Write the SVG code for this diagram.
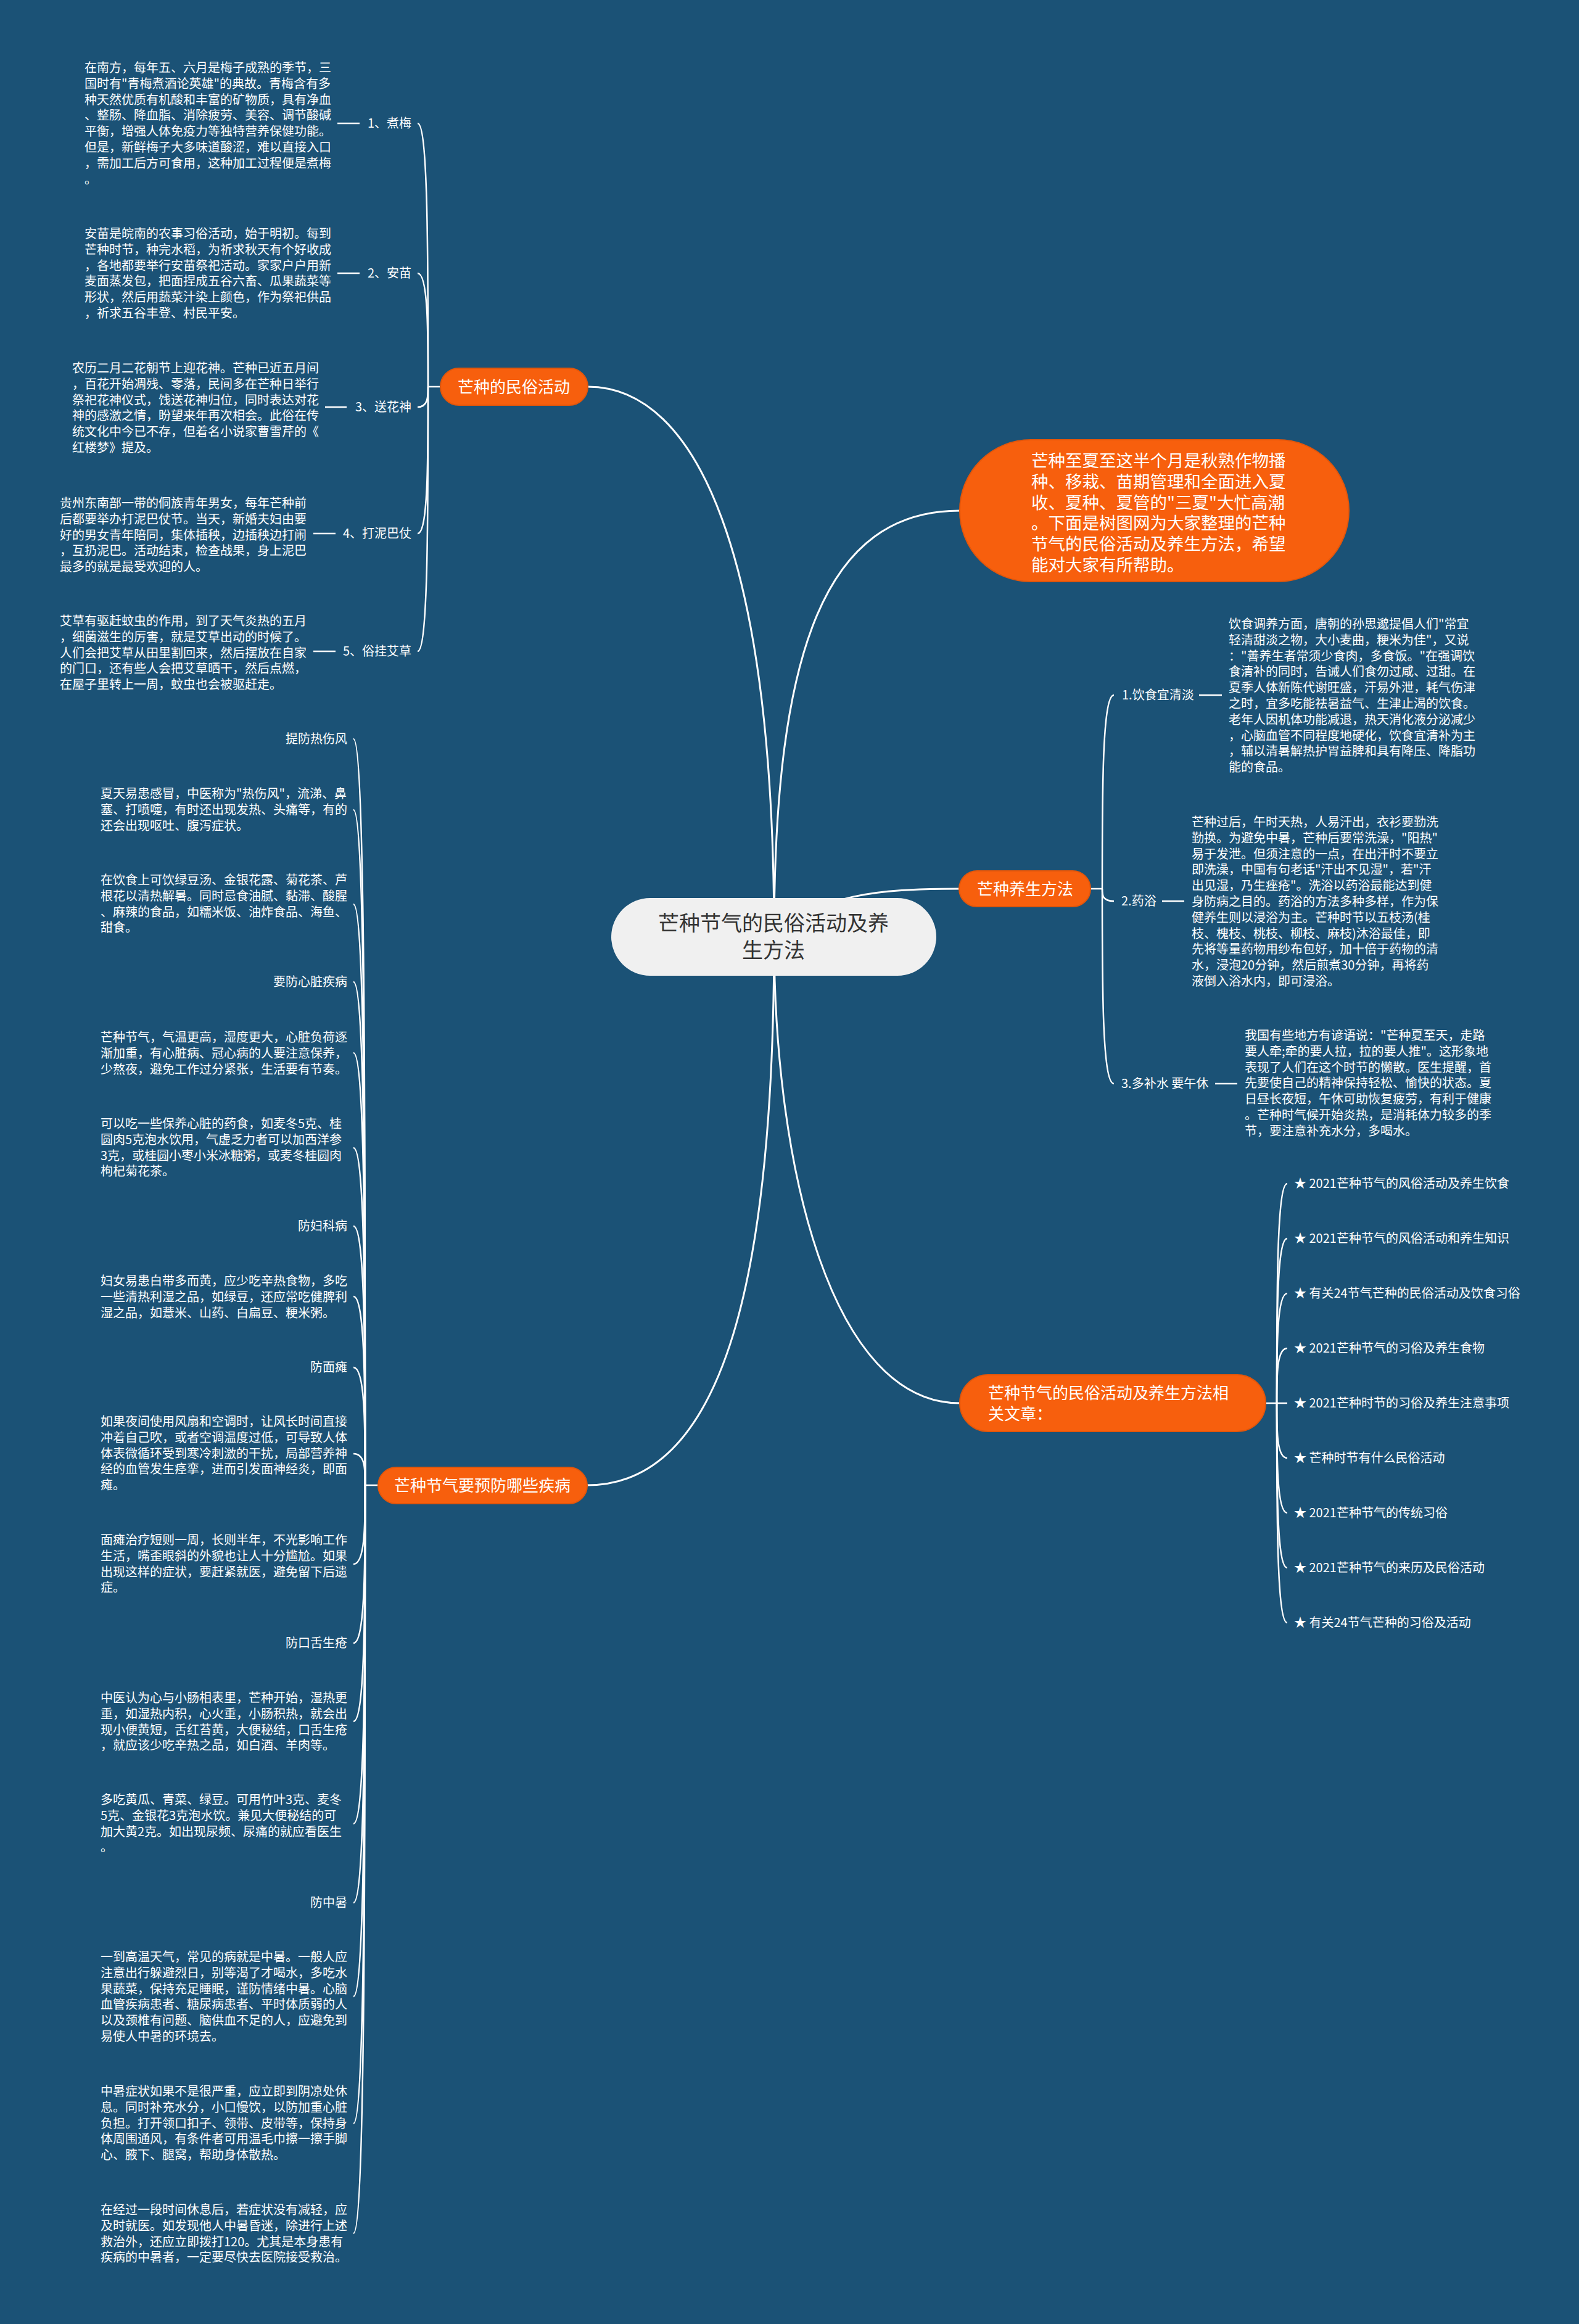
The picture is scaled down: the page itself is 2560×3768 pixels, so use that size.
<svg xmlns="http://www.w3.org/2000/svg" width="2560" height="3768" viewBox="0 0 2560 3768">
<style>
text{font-family:"Noto Sans CJK SC","Noto Sans",sans-serif;}
.p{font-size:20px;fill:#ffffff;}
.lbl{font-size:20px;fill:#ffffff;}
.r{text-anchor:end;}
.link{fill:none;stroke:#ffffff;stroke-width:2.5;}
.main{fill:none;stroke:#ffffff;stroke-width:3;}
.on{fill:#f75f0d;stroke:#e2560b;stroke-width:2;}
.ont{font-size:26px;fill:#ffffff;}
</style>
<rect x="0" y="0" width="2560" height="3768" fill="#1b5276"/>

<g id="connectors">
  <path class="main" d="M953 627 C1130 627 1255 900 1255 1519"/>
  <path class="main" d="M1255 1519 C1255 1050 1340 828 1556 828"/>
  <path class="main" d="M1255 1519 C1330 1450 1420 1441 1555 1441"/>
  <path class="main" d="M1255 1519 C1255 1900 1350 2275 1556 2275"/>
  <path class="main" d="M1255 1519 C1255 2050 1180 2408 952 2408"/>
  <!-- 民俗活动 bracket -->
  <path class="link" d="M714 627 H694"/>
  <path class="link" d="M677 200 C694 200 694 413 694 627"/>
  <path class="link" d="M677 443 C694 443 694 535 694 627"/>
  <path class="link" d="M677 660 C694 660 694 643 694 627"/>
  <path class="link" d="M677 865 C694 865 694 746 694 627"/>
  <path class="link" d="M677 1056 C694 1056 694 841 694 627"/>
  <path class="link" d="M547 200 H583 M547 443 H583 M527 660 H562 M508 865 H544 M508 1056 H544"/>
  <!-- 养生方法 bracket -->
  <path class="link" d="M1768 1441 H1787"/>
  <path class="link" d="M1806 1127 C1787 1127 1787 1284 1787 1441"/>
  <path class="link" d="M1806 1461 C1787 1461 1787 1451 1787 1441"/>
  <path class="link" d="M1806 1757 C1787 1757 1787 1599 1787 1441"/>
  <path class="link" d="M1944 1127 H1981 M1884 1461 H1920 M1970 1757 H2006"/>
  <!-- 相关文章 bracket -->
  <path class="link" d="M2052 2275 H2070"/>
  <path class="link" d="M2087 1919 C2070 1919 2070 2097 2070 2275"/>
  <path class="link" d="M2087 2008 C2070 2008 2070 2141 2070 2275"/>
  <path class="link" d="M2087 2097 C2070 2097 2070 2186 2070 2275"/>
  <path class="link" d="M2087 2186 C2070 2186 2070 2230 2070 2275"/>
  <path class="link" d="M2087 2275 H2070"/>
  <path class="link" d="M2087 2364 C2070 2364 2070 2320 2070 2275"/>
  <path class="link" d="M2087 2453 C2070 2453 2070 2364 2070 2275"/>
  <path class="link" d="M2087 2542 C2070 2542 2070 2408 2070 2275"/>
  <path class="link" d="M2087 2631 C2070 2631 2070 2453 2070 2275"/>
  <!-- 疾病 bracket -->
  <path class="link" d="M613 2408 H592"/>
  <path class="link" d="M573 1198 C592 1198 592 1803 592 2408"/>
  <path class="link" d="M573 1313 C592 1313 592 1860 592 2408"/>
  <path class="link" d="M573 1466 C592 1466 592 1937 592 2408"/>
  <path class="link" d="M573 1592 C592 1592 592 2000 592 2408"/>
  <path class="link" d="M573 1707 C592 1707 592 2057 592 2408"/>
  <path class="link" d="M573 1861 C592 1861 592 2134 592 2408"/>
  <path class="link" d="M573 1988 C592 1988 592 2198 592 2408"/>
  <path class="link" d="M573 2102 C592 2102 592 2255 592 2408"/>
  <path class="link" d="M573 2217 C592 2217 592 2312 592 2408"/>
  <path class="link" d="M573 2357 C592 2357 592 2382 592 2408"/>
  <path class="link" d="M573 2536 C592 2536 592 2472 592 2408"/>
  <path class="link" d="M573 2664 C592 2664 592 2536 592 2408"/>
  <path class="link" d="M573 2791 C592 2791 592 2600 592 2408"/>
  <path class="link" d="M573 2957 C592 2957 592 2682 592 2408"/>
  <path class="link" d="M573 3085 C592 3085 592 2746 592 2408"/>
  <path class="link" d="M573 3237 C592 3237 592 2822 592 2408"/>
  <path class="link" d="M573 3443 C592 3443 592 2925 592 2408"/>
  <path class="link" d="M573 3621 C592 3621 592 3014 592 2408"/>
</g>

<g id="center">
  <rect x="991" y="1456" width="527" height="126" rx="63" fill="#f0f0f0"/>
  <text x="1254" y="1509" text-anchor="middle" font-size="34" fill="#333333">芒种节气的民俗活动及养</text>
  <text x="1254" y="1553" text-anchor="middle" font-size="34" fill="#333333">生方法</text>
</g>

<g id="node-intro">
  <rect class="on" x="1556" y="713" width="631" height="230" rx="115"/>
  <text font-size="27.5" fill="#ffffff" x="1672" y="757">
    <tspan x="1672">芒种至夏至这半个月是秋熟作物播</tspan>
    <tspan x="1672" dy="33.8">种、移栽、苗期管理和全面进入夏</tspan>
    <tspan x="1672" dy="33.8">收、夏种、夏管的"三夏"大忙高潮</tspan>
    <tspan x="1672" dy="33.8">。下面是树图网为大家整理的芒种</tspan>
    <tspan x="1672" dy="33.8">节气的民俗活动及养生方法，希望</tspan>
    <tspan x="1672" dy="33.8">能对大家有所帮助。</tspan>
  </text>
</g>

<g id="node-customs">
  <rect class="on" x="714" y="597" width="239" height="60" rx="30"/>
  <text class="ont" x="833" y="637" text-anchor="middle">芒种的民俗活动</text>
</g>
<g id="c1">
  <text class="lbl r" x="667" y="207">1、煮梅</text>
  <text class="p" x="137" y="117">
    <tspan x="137">在南方，每年五、六月是梅子成熟的季节，三</tspan>
    <tspan x="137" dy="25.8">国时有"青梅煮酒论英雄"的典故。青梅含有多</tspan>
    <tspan x="137" dy="25.8">种天然优质有机酸和丰富的矿物质，具有净血</tspan>
    <tspan x="137" dy="25.8">、整肠、降血脂、消除疲劳、美容、调节酸碱</tspan>
    <tspan x="137" dy="25.8">平衡，增强人体免疫力等独特营养保健功能。</tspan>
    <tspan x="137" dy="25.8">但是，新鲜梅子大多味道酸涩，难以直接入口</tspan>
    <tspan x="137" dy="25.8">，需加工后方可食用，这种加工过程便是煮梅</tspan>
    <tspan x="137" dy="25.8">。</tspan>
  </text>
</g>
<g id="c2">
  <text class="lbl r" x="667" y="450">2、安苗</text>
  <text class="p" x="137" y="386">
    <tspan x="137">安苗是皖南的农事习俗活动，始于明初。每到</tspan>
    <tspan x="137" dy="25.8">芒种时节，种完水稻，为祈求秋天有个好收成</tspan>
    <tspan x="137" dy="25.8">，各地都要举行安苗祭祀活动。家家户户用新</tspan>
    <tspan x="137" dy="25.8">麦面蒸发包，把面捏成五谷六畜、瓜果蔬菜等</tspan>
    <tspan x="137" dy="25.8">形状，然后用蔬菜汁染上颜色，作为祭祀供品</tspan>
    <tspan x="137" dy="25.8">，祈求五谷丰登、村民平安。</tspan>
  </text>
</g>
<g id="c3">
  <text class="lbl r" x="667" y="667">3、送花神</text>
  <text class="p" x="117" y="604">
    <tspan x="117">农历二月二花朝节上迎花神。芒种已近五月间</tspan>
    <tspan x="117" dy="25.8">，百花开始凋残、零落，民间多在芒种日举行</tspan>
    <tspan x="117" dy="25.8">祭祀花神仪式，饯送花神归位，同时表达对花</tspan>
    <tspan x="117" dy="25.8">神的感激之情，盼望来年再次相会。此俗在传</tspan>
    <tspan x="117" dy="25.8">统文化中今已不存，但着名小说家曹雪芹的《</tspan>
    <tspan x="117" dy="25.8">红楼梦》提及。</tspan>
  </text>
</g>
<g id="c4">
  <text class="lbl r" x="667" y="872">4、打泥巴仗</text>
  <text class="p" x="97" y="823">
    <tspan x="97">贵州东南部一带的侗族青年男女，每年芒种前</tspan>
    <tspan x="97" dy="25.8">后都要举办打泥巴仗节。当天，新婚夫妇由要</tspan>
    <tspan x="97" dy="25.8">好的男女青年陪同，集体插秧，边插秧边打闹</tspan>
    <tspan x="97" dy="25.8">，互扔泥巴。活动结束，检查战果，身上泥巴</tspan>
    <tspan x="97" dy="25.8">最多的就是最受欢迎的人。</tspan>
  </text>
</g>
<g id="c5">
  <text class="lbl r" x="667" y="1063">5、俗挂艾草</text>
  <text class="p" x="97" y="1014">
    <tspan x="97">艾草有驱赶蚊虫的作用，到了天气炎热的五月</tspan>
    <tspan x="97" dy="25.8">，细菌滋生的厉害，就是艾草出动的时候了。</tspan>
    <tspan x="97" dy="25.8">人们会把艾草从田里割回来，然后摆放在自家</tspan>
    <tspan x="97" dy="25.8">的门口，还有些人会把艾草晒干，然后点燃，</tspan>
    <tspan x="97" dy="25.8">在屋子里转上一周，蚊虫也会被驱赶走。</tspan>
  </text>
</g>

<g id="node-health">
  <rect class="on" x="1555" y="1412" width="213" height="58" rx="29"/>
  <text class="ont" x="1662" y="1451" text-anchor="middle">芒种养生方法</text>
</g>
<g id="h1">
  <text class="lbl" x="1819" y="1134">1.饮食宜清淡</text>
  <text class="p" x="1992" y="1019">
    <tspan x="1992">饮食调养方面，唐朝的孙思邈提倡人们"常宜</tspan>
    <tspan x="1992" dy="25.8">轻清甜淡之物，大小麦曲，粳米为佳"，又说</tspan>
    <tspan x="1992" dy="25.8">："善养生者常须少食肉，多食饭。"在强调饮</tspan>
    <tspan x="1992" dy="25.8">食清补的同时，告诫人们食勿过咸、过甜。在</tspan>
    <tspan x="1992" dy="25.8">夏季人体新陈代谢旺盛，汗易外泄，耗气伤津</tspan>
    <tspan x="1992" dy="25.8">之时，宜多吃能祛暑益气、生津止渴的饮食。</tspan>
    <tspan x="1992" dy="25.8">老年人因机体功能减退，热天消化液分泌减少</tspan>
    <tspan x="1992" dy="25.8">，心脑血管不同程度地硬化，饮食宜清补为主</tspan>
    <tspan x="1992" dy="25.8">，辅以清暑解热护胃益脾和具有降压、降脂功</tspan>
    <tspan x="1992" dy="25.8">能的食品。</tspan>
  </text>
</g>
<g id="h2">
  <text class="lbl" x="1818" y="1468">2.药浴</text>
  <text class="p" x="1932" y="1340">
    <tspan x="1932">芒种过后，午时天热，人易汗出，衣衫要勤洗</tspan>
    <tspan x="1932" dy="25.8">勤换。为避免中暑，芒种后要常洗澡，"阳热"</tspan>
    <tspan x="1932" dy="25.8">易于发泄。但须注意的一点，在出汗时不要立</tspan>
    <tspan x="1932" dy="25.8">即洗澡，中国有句老话"汗出不见湿"，若"汗</tspan>
    <tspan x="1932" dy="25.8">出见湿，乃生痤疮"。洗浴以药浴最能达到健</tspan>
    <tspan x="1932" dy="25.8">身防病之目的。药浴的方法多种多样，作为保</tspan>
    <tspan x="1932" dy="25.8">健养生则以浸浴为主。芒种时节以五枝汤(桂</tspan>
    <tspan x="1932" dy="25.8">枝、槐枝、桃枝、柳枝、麻枝)沐浴最佳，即</tspan>
    <tspan x="1932" dy="25.8">先将等量药物用纱布包好，加十倍于药物的清</tspan>
    <tspan x="1932" dy="25.8">水，浸泡20分钟，然后煎煮30分钟，再将药</tspan>
    <tspan x="1932" dy="25.8">液倒入浴水内，即可浸浴。</tspan>
  </text>
</g>
<g id="h3">
  <text class="lbl" x="1818" y="1764">3.多补水 要午休</text>
  <text class="p" x="2018" y="1686">
    <tspan x="2018">我国有些地方有谚语说："芒种夏至天，走路</tspan>
    <tspan x="2018" dy="25.8">要人牵;牵的要人拉，拉的要人推"。这形象地</tspan>
    <tspan x="2018" dy="25.8">表现了人们在这个时节的懒散。医生提醒，首</tspan>
    <tspan x="2018" dy="25.8">先要使自己的精神保持轻松、愉快的状态。夏</tspan>
    <tspan x="2018" dy="25.8">日昼长夜短，午休可助恢复疲劳，有利于健康</tspan>
    <tspan x="2018" dy="25.8">。芒种时气候开始炎热，是消耗体力较多的季</tspan>
    <tspan x="2018" dy="25.8">节，要注意补充水分，多喝水。</tspan>
  </text>
</g>

<g id="node-related">
  <rect class="on" x="1556" y="2229" width="496" height="92" rx="46"/>
  <text class="ont" x="1602" y="2268">芒种节气的民俗活动及养生方法相</text>
  <text class="ont" x="1602" y="2302">关文章：</text>
</g>
<g id="related-items">
  <text class="lbl" x="2098" y="1926">★ 2021芒种节气的风俗活动及养生饮食</text>
  <text class="lbl" x="2098" y="2015">★ 2021芒种节气的风俗活动和养生知识</text>
  <text class="lbl" x="2098" y="2104">★ 有关24节气芒种的民俗活动及饮食习俗</text>
  <text class="lbl" x="2098" y="2193">★ 2021芒种节气的习俗及养生食物</text>
  <text class="lbl" x="2098" y="2282">★ 2021芒种时节的习俗及养生注意事项</text>
  <text class="lbl" x="2098" y="2371">★ 芒种时节有什么民俗活动</text>
  <text class="lbl" x="2098" y="2460">★ 2021芒种节气的传统习俗</text>
  <text class="lbl" x="2098" y="2549">★ 2021芒种节气的来历及民俗活动</text>
  <text class="lbl" x="2098" y="2638">★ 有关24节气芒种的习俗及活动</text>
</g>

<g id="node-disease">
  <rect class="on" x="613" y="2379" width="339" height="59" rx="29.5"/>
  <text class="ont" x="782" y="2418" text-anchor="middle">芒种节气要预防哪些疾病</text>
</g>
<g id="d-items">
  <text class="lbl r" x="563" y="1205">提防热伤风</text>
  <text class="p" x="163" y="1294">
    <tspan x="163">夏天易患感冒，中医称为"热伤风"，流涕、鼻</tspan>
    <tspan x="163" dy="25.8">塞、打喷嚏，有时还出现发热、头痛等，有的</tspan>
    <tspan x="163" dy="25.8">还会出现呕吐、腹泻症状。</tspan>
  </text>
  <text class="p" x="163" y="1434">
    <tspan x="163">在饮食上可饮绿豆汤、金银花露、菊花茶、芦</tspan>
    <tspan x="163" dy="25.8">根花以清热解暑。同时忌食油腻、黏滞、酸腥</tspan>
    <tspan x="163" dy="25.8">、麻辣的食品，如糯米饭、油炸食品、海鱼、</tspan>
    <tspan x="163" dy="25.8">甜食。</tspan>
  </text>
  <text class="lbl r" x="563" y="1599">要防心脏疾病</text>
  <text class="p" x="163" y="1689">
    <tspan x="163">芒种节气，气温更高，湿度更大，心脏负荷逐</tspan>
    <tspan x="163" dy="25.8">渐加重，有心脏病、冠心病的人要注意保养，</tspan>
    <tspan x="163" dy="25.8">少熬夜，避免工作过分紧张，生活要有节奏。</tspan>
  </text>
  <text class="p" x="163" y="1829">
    <tspan x="163">可以吃一些保养心脏的药食，如麦冬5克、桂</tspan>
    <tspan x="163" dy="25.8">圆肉5克泡水饮用，气虚乏力者可以加西洋参</tspan>
    <tspan x="163" dy="25.8">3克，或桂圆小枣小米冰糖粥，或麦冬桂圆肉</tspan>
    <tspan x="163" dy="25.8">枸杞菊花茶。</tspan>
  </text>
  <text class="lbl r" x="563" y="1995">防妇科病</text>
  <text class="p" x="163" y="2084">
    <tspan x="163">妇女易患白带多而黄，应少吃辛热食物，多吃</tspan>
    <tspan x="163" dy="25.8">一些清热利湿之品，如绿豆，还应常吃健脾利</tspan>
    <tspan x="163" dy="25.8">湿之品，如薏米、山药、白扁豆、粳米粥。</tspan>
  </text>
  <text class="lbl r" x="563" y="2224">防面瘫</text>
  <text class="p" x="163" y="2312">
    <tspan x="163">如果夜间使用风扇和空调时，让风长时间直接</tspan>
    <tspan x="163" dy="25.8">冲着自己吹，或者空调温度过低，可导致人体</tspan>
    <tspan x="163" dy="25.8">体表微循环受到寒冷刺激的干扰，局部营养神</tspan>
    <tspan x="163" dy="25.8">经的血管发生痉挛，进而引发面神经炎，即面</tspan>
    <tspan x="163" dy="25.8">瘫。</tspan>
  </text>
  <text class="p" x="163" y="2504">
    <tspan x="163">面瘫治疗短则一周，长则半年，不光影响工作</tspan>
    <tspan x="163" dy="25.8">生活，嘴歪眼斜的外貌也让人十分尴尬。如果</tspan>
    <tspan x="163" dy="25.8">出现这样的症状，要赶紧就医，避免留下后遗</tspan>
    <tspan x="163" dy="25.8">症。</tspan>
  </text>
  <text class="lbl r" x="563" y="2671">防口舌生疮</text>
  <text class="p" x="163" y="2760">
    <tspan x="163">中医认为心与小肠相表里，芒种开始，湿热更</tspan>
    <tspan x="163" dy="25.8">重，如湿热内积，心火重，小肠积热，就会出</tspan>
    <tspan x="163" dy="25.8">现小便黄短，舌红苔黄，大便秘结，口舌生疮</tspan>
    <tspan x="163" dy="25.8">，就应该少吃辛热之品，如白酒、羊肉等。</tspan>
  </text>
  <text class="p" x="163" y="2925">
    <tspan x="163">多吃黄瓜、青菜、绿豆。可用竹叶3克、麦冬</tspan>
    <tspan x="163" dy="25.8">5克、金银花3克泡水饮。兼见大便秘结的可</tspan>
    <tspan x="163" dy="25.8">加大黄2克。如出现尿频、尿痛的就应看医生</tspan>
    <tspan x="163" dy="25.8">。</tspan>
  </text>
  <text class="lbl r" x="563" y="3092">防中暑</text>
  <text class="p" x="163" y="3180">
    <tspan x="163">一到高温天气，常见的病就是中暑。一般人应</tspan>
    <tspan x="163" dy="25.8">注意出行躲避烈日，别等渴了才喝水，多吃水</tspan>
    <tspan x="163" dy="25.8">果蔬菜，保持充足睡眠，谨防情绪中暑。心脑</tspan>
    <tspan x="163" dy="25.8">血管疾病患者、糖尿病患者、平时体质弱的人</tspan>
    <tspan x="163" dy="25.8">以及颈椎有问题、脑供血不足的人，应避免到</tspan>
    <tspan x="163" dy="25.8">易使人中暑的环境去。</tspan>
  </text>
  <text class="p" x="163" y="3398">
    <tspan x="163">中暑症状如果不是很严重，应立即到阴凉处休</tspan>
    <tspan x="163" dy="25.8">息。同时补充水分，小口慢饮，以防加重心脏</tspan>
    <tspan x="163" dy="25.8">负担。打开领口扣子、领带、皮带等，保持身</tspan>
    <tspan x="163" dy="25.8">体周围通风，有条件者可用温毛巾擦一擦手脚</tspan>
    <tspan x="163" dy="25.8">心、腋下、腿窝，帮助身体散热。</tspan>
  </text>
  <text class="p" x="163" y="3590">
    <tspan x="163">在经过一段时间休息后，若症状没有减轻，应</tspan>
    <tspan x="163" dy="25.8">及时就医。如发现他人中暑昏迷，除进行上述</tspan>
    <tspan x="163" dy="25.8">救治外，还应立即拨打120。尤其是本身患有</tspan>
    <tspan x="163" dy="25.8">疾病的中暑者，一定要尽快去医院接受救治。</tspan>
  </text>
</g>
</svg>
